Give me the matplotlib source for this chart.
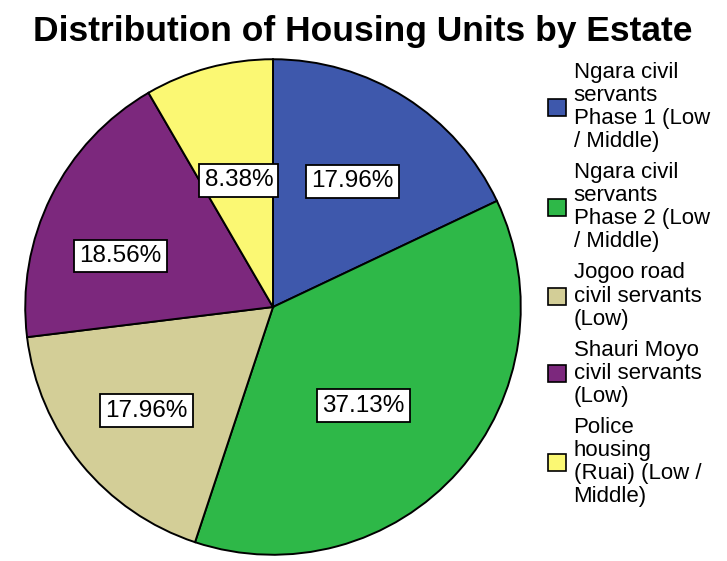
import numpy as np
import matplotlib.pyplot as plt

estates = [
    "Ngara civil\nservants\nPhase 1 (Low\n/ Middle)",
    "Ngara civil\nservants\nPhase 2 (Low\n/ Middle)",
    "Jogoo road\ncivil servants\n(Low)",
    "Shauri Moyo\ncivil servants\n(Low)",
    "Police\nhousing\n(Ruai) (Low /\nMiddle)",
]
shares = [17.96, 37.13, 17.96, 18.56, 8.38]
colors = ["#3E58AC", "#2EB848", "#D3CE97", "#7C287D", "#FBF873"]
# label placement tweaks (fraction of radius, angle nudge in degrees)
label_radius = [0.60, 0.54, 0.66, 0.65, 0.53]
label_shift = [0, -6, 0, 8, 0]

plt.rcParams["font.family"] = ["Liberation Sans", "DejaVu Sans"]

fig = plt.figure(figsize=(7.27, 5.61), dpi=100)
ax = fig.add_axes([24 / 727, 5 / 561, 498 / 727, 498 / 561])

wedges, _ = ax.pie(shares, colors=colors, startangle=90, counterclock=False,
                   wedgeprops=dict(edgecolor="black", linewidth=1.4))

for w, pct, r, d in zip(wedges, shares, label_radius, label_shift):
    ang = np.deg2rad((w.theta1 + w.theta2) / 2 + d)
    ax.text(r * np.cos(ang), r * np.sin(ang), f"{pct:.2f}%", ha="center", va="center",
            fontsize=17.5,
            bbox=dict(boxstyle="square,pad=0.22", facecolor="white", edgecolor="black", linewidth=1.3))

ax.set_xlim(-1.005, 1.005)
ax.set_ylim(-1.005, 1.005)
ax.set_aspect("equal")
ax.axis("off")

fig.text(363 / 727, 1 - 31 / 561, "Distribution of Housing Units by Estate",
         ha="center", va="center", fontsize=25.5, fontweight="bold")

leg = fig.legend(wedges, estates, loc="upper left", bbox_to_anchor=(548 / 727, 1 - 62 / 561),
                 frameon=False, fontsize=16, handlelength=0.8, handleheight=0.8,
                 handletextpad=0.35, labelspacing=0.45, borderpad=0, borderaxespad=0)
for t in leg.get_texts():
    t.set_linespacing(1.13)
for h in leg.legend_handles:
    h.set_linewidth(1.2)

fig.savefig("out.png", dpi=100)
